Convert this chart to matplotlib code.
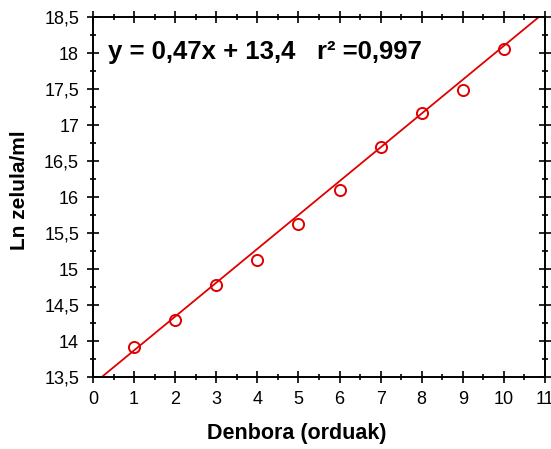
import numpy as np
import matplotlib
matplotlib.use("Agg")
import matplotlib.pyplot as plt
from matplotlib.ticker import MultipleLocator, FixedLocator

plt.rcParams['font.family'] = ['Liberation Sans', 'DejaVu Sans']

hours = [1, 2, 3, 4, 5, 6, 7, 8, 9, 10]
ln_cells = [13.91, 14.29, 14.78, 15.12, 15.63, 16.10, 16.70, 17.16, 17.49, 18.05]
slope = 0.47
intercept = 13.4
x_ticks = [0, 1, 2, 3, 4, 5, 6, 7, 8, 9, 10, 11]
y_ticks = [13.5, 14, 14.5, 15, 15.5, 16, 16.5, 17, 17.5, 18, 18.5]
y_tick_labels = ["13,5", "14", "14,5", "15", "15,5", "16", "16,5", "17", "17,5", "18", "18,5"]

fig = plt.figure(figsize=(5.51, 4.49), dpi=100)
ax = fig.add_axes([93/551, 1-377/449, (545-93)/551, (377-17)/449])

red = '#e00000'
xs = np.array([0, 11])
ax.plot(xs, slope*xs + intercept, color=red, lw=1.3, clip_on=True)
ax.plot(hours, ln_cells, 'o', mfc='none', mec=red, mew=1.4, ms=8)

ax.set_xlim(0, 11)
ax.set_ylim(13.5, 18.5)
ax.xaxis.set_major_locator(FixedLocator(x_ticks))
ax.set_xticklabels([str(v) for v in x_ticks])
ax.yaxis.set_major_locator(FixedLocator(y_ticks))
ax.set_yticklabels(y_tick_labels)
ax.xaxis.set_minor_locator(MultipleLocator(0.5))
ax.yaxis.set_minor_locator(MultipleLocator(0.25))
ax.tick_params(which='both', direction='inout', top=True, right=True, labelsize=13, width=1.2)
ax.tick_params(which='major', length=8, pad=6)
ax.tick_params(which='minor', length=4)
for s in ax.spines.values():
    s.set_linewidth(1.4)

ax.set_xlabel('Denbora (orduak)', fontsize=15.5, fontweight='bold', labelpad=12)
ax.xaxis.set_label_coords((297-93)/452, -(434-377)/360)
ax.set_ylabel('Ln zelula/ml', fontsize=15, fontweight='bold')
ax.yaxis.set_label_coords(-(93-20)/452, 1-(190-17)/360)
ax.xaxis.label.set_va('center')
ax.yaxis.label.set_va('center')

ax.text(0.36, 18.02, 'y = 0,47x + 13,4', fontsize=18.5, fontweight='bold', va='center')
ax.text(5.45, 18.02, 'r² =0,997', fontsize=18.5, fontweight='bold', va='center')

fig.savefig('out.png', dpi=100)
